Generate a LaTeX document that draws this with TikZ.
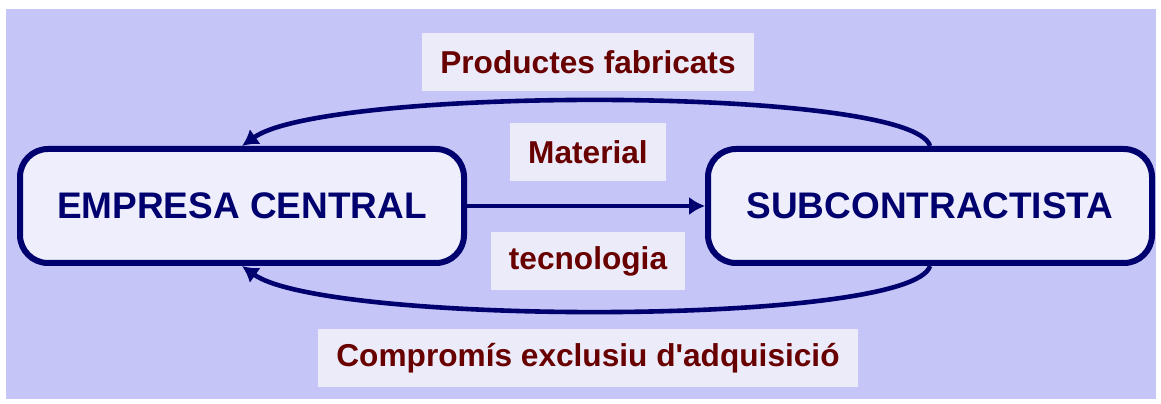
\documentclass[tikz,border=0pt]{standalone}
\usepackage{fontspec}
\newfontfamily\arial{Liberation Sans}
\usetikzlibrary{arrows.meta,positioning}
\definecolor{navy}{HTML}{00006E}
\definecolor{boxfill}{HTML}{EEEEFC}
\definecolor{panel}{HTML}{C5C5F7}
\definecolor{labelfill}{HTML}{EBEBFA}
\definecolor{darkred}{HTML}{680000}

\begin{document}
\begin{tikzpicture}[->,>={Latex[length=4mm,width=4.6mm]},line width=1.15mm,draw=navy,
	firm/.style={draw=navy,fill=boxfill,line width=1.5mm,rounded corners=7mm,minimum width=11.1cm,minimum height=2.85cm,
		text=navy,font=\arial\fontsize{26.3}{30}\selectfont\bfseries},
	flow/.style={fill=labelfill,text=darkred,inner xsep=4.5mm,minimum height=1.45cm,
		font=\arial\fontsize{22.5}{26}\selectfont\bfseries}]
	
	% background
	\useasboundingbox (0,0) rectangle (29.025,10.1);
	\fill[white,-] (0,0) rectangle (29.025,10.1);
	\fill[panel,-] (0.15,0.125) rectangle (28.9,9.875);
	
	\node[firm] (emp) at (6.05,4.95) {EMPRESA CENTRAL};
	\node[firm] (sub) [right=5.95cm of emp] {SUBCONTRACTISTA};
	
	\node[flow] (prod) at (14.7,8.55) {Productes fabricats};
	\node[flow] (mat) at (14.7,6.3) {Material};
	\node[flow] (tec) at (14.7,3.575) {tecnologia};
	\node[flow] (comp) at (14.7,1.15) {Compromís exclusiu d'adquisició};
	
	\path (emp) edge (sub);
	\draw (sub.north) .. controls +(-0.45,1.5) and +(2.1,1.5) .. (emp.north);
	\draw (sub.south) .. controls +(-0.45,-1.5) and +(2.1,-1.5) .. (emp.south);
\end{tikzpicture}
\end{document}
